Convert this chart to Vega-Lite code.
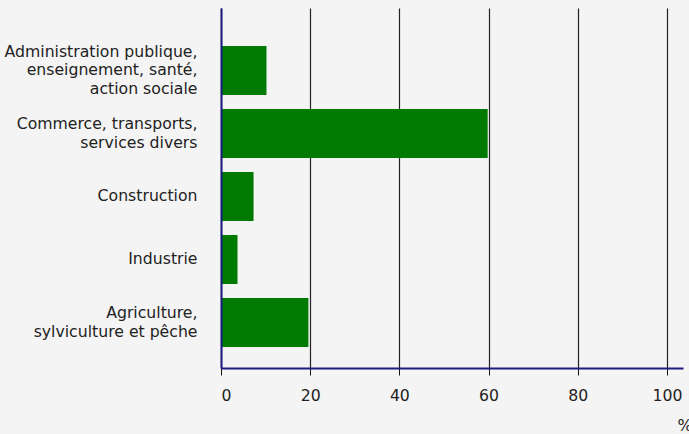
{
  "$schema": "https://vega.github.io/schema/vega-lite/v6.json",
  "width": 462,
  "height": 360,
  "autosize": {"type": "none"},
  "padding": {"left": 221, "top": 8, "right": 6, "bottom": 66},
  "background": "#f4f4f4",
  "config": {"view": {"stroke": null}, "font": "DejaVu Sans"},
  "data": {"values": [
    {"secteur": "Administration publique,|enseignement, santé,|action sociale", "valeur": 10.2},
    {"secteur": "Commerce, transports,|services divers", "valeur": 59.8},
    {"secteur": "Construction", "valeur": 7.3},
    {"secteur": "Industrie", "valeur": 3.7},
    {"secteur": "Agriculture,|sylviculture et pêche", "valeur": 19.6}
  ]},
  "mark": {"type": "bar", "color": "#007a00"},
  "encoding": {
    "y": {
      "field": "secteur", "type": "nominal", "sort": null,
      "scale": {"paddingInner": 0.222, "paddingOuter": 0.468, "align": 0.644},
      "axis": {
        "title": null, "ticks": false, "domainColor": "#1a1a80", "domainWidth": 2,
        "labelExpr": "split(datum.label, '|')", "labelFontSize": 15.7, "labelLimit": 0,
        "labelBaseline": "middle",
        "labelPadding": 24, "labelColor": "#222", "labelLineHeight": 18.5, "zindex": 1,
        "labelOffset": {
          "condition": [
            {"test": "length(split(datum.value, '|')) == 3", "value": -18.5},
            {"test": "length(split(datum.value, '|')) == 2", "value": -9.25}
          ],
          "value": 0
        }
      }
    },
    "x": {
      "field": "valeur", "type": "quantitative",
      "scale": {"domain": [0, 103.6], "nice": false},
      "axis": {
        "values": [0, 20, 40, 60, 80, 100], "grid": true, "gridColor": "#222", "gridWidth": 1.2,
        "domainColor": "#1a1a80", "domainWidth": 2, "tickColor": "#111", "tickSize": 7,
        "labelFontSize": 15.7, "labelColor": "#222", "labelPadding": 13,
        "title": "%", "titleX": 456, "titleY": 62, "titleAlign": "left", "titleBaseline": "alphabetic",
        "titleFontWeight": "normal", "titleFontSize": 15.7, "titleColor": "#222"
      }
    }
  }
}
